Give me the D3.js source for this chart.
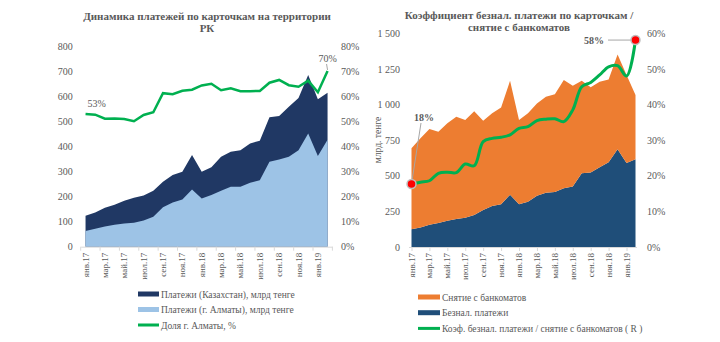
<!DOCTYPE html>
<html>
<head>
<meta charset="utf-8">
<script src="https://cdn.jsdelivr.net/npm/d3@7"></script>
<style>
body { margin: 0; background: #fff; }
svg text { font-family: "Liberation Serif", "Times New Roman", serif; fill: #595959; }
</style>
</head>
<body>
<script>
const months = ["янв.17","фев.17","мар.17","апр.17","май.17","июн.17","июл.17","авг.17","сен.17","окт.17","ноя.17","дек.17",
  "янв.18","фев.18","мар.18","апр.18","май.18","июн.18","июл.18","авг.18","сен.18","окт.18","ноя.18","дек.18","янв.19","фев.19"];
const tickMonths = months.filter((m, i) => i % 2 === 0);

// left chart: payments, bln tenge + Almaty share, %
const kazPayments = [124,137,156,168,184,196,205,224,260,287,300,367,300,318,360,380,386,413,424,518,523,560,595,687,590,616];
const almatyPayments = [63,72,81,88,93,96,105,120,158,177,189,229,193,207,224,240,240,256,266,340,349,360,386,453,363,428];
const almatyShare = [53.1,52.8,51.2,51.3,51.1,50.2,52.7,53.8,61.4,61.0,62.4,62.8,64.5,65.2,62.6,63.4,62.2,62.2,62.3,65.6,66.7,64.6,64.0,66.4,61.8,70.3];
const leftTicks = [0,100,200,300,400,500,600,700,800];
const leftPctTicks = [0,10,20,30,40,50,60,70,80];

// right chart: cashless payments, ATM withdrawals, ratio %
const cashless = kazPayments;
const atmWithdrawal = [569,626,672,641,684,719,686,728,626,651,680,800,591,621,648,675,687,759,708,649,598,600,581,665,617,451];
const ratio = [17.7,18.2,18.6,20.7,21.0,20.9,23.3,22.8,29.6,30.5,30.8,31.5,33.3,33.8,35.5,35.9,36.0,35.2,38.5,45.0,46.2,48.3,50.6,50.9,48.0,58.1];
const rightTicks = [0,250,500,750,1000,1250,1500];
const rightPctTicks = [0,10,20,30,40,50,60];

const svg = d3.select("body").append("svg").attr("width", 720).attr("height", 342);

const ru = d3.formatLocale({decimal: ",", thousands: "\u00a0", grouping: [3], currency: ["", ""]});
const fmtNum = ru.format(",");

// ---------- left chart ----------
const xL = d3.scaleBand().domain(months).range([80.7, 332.4]);
const cx = m => xL(m) + xL.bandwidth() / 2;
const yL = d3.scaleLinear().domain([0, 800]).range([246.7, 46.7]);
const yLp = d3.scaleLinear().domain([0, 80]).range([246.7, 46.7]);

const gL = svg.append("g");
gL.append("path").datum(months)
  .attr("d", d3.area().x(cx).y0(yL(0)).y1((d, i) => yL(kazPayments[i])))
  .attr("fill", "#203864");
gL.append("path").datum(months)
  .attr("d", d3.area().x(cx).y0(yL(0)).y1((d, i) => yL(almatyPayments[i])))
  .attr("fill", "#9dc3e6");
gL.append("path").datum(months)
  .attr("d", d3.line().x(cx).y((d, i) => yLp(almatyShare[i])))
  .attr("fill", "none").attr("stroke", "#00b050").attr("stroke-width", 2.5);

// x axis
const axL = gL.append("g").attr("transform", `translate(0,${yL(0)})`)
  .call(d3.axisBottom(xL).tickValues(tickMonths).tickSize(0).tickFormat(""));
axL.select(".domain").attr("stroke", "#d9d9d9");
gL.selectAll("line.tk").data(d3.range(0, 27, 2)).join("line").attr("class", "tk")
  .attr("x1", i => xL.range()[0] + i * xL.step()).attr("x2", i => xL.range()[0] + i * xL.step())
  .attr("y1", yL(0)).attr("y2", yL(0) + 4).attr("stroke", "#d9d9d9");
gL.selectAll("text.xl").data(tickMonths).join("text").attr("class", "xl")
  .attr("transform", d => `translate(${cx(d) + 3},${yL(0) + 6}) rotate(-90)`)
  .attr("text-anchor", "end").attr("font-size", 9).text(d => d);

// y axes
const yAxL = gL.append("g").attr("transform", "translate(80.7,0)")
  .call(d3.axisLeft(yL).tickValues(leftTicks).tickSize(0).tickPadding(8));
yAxL.select(".domain").remove();
yAxL.selectAll("text").attr("font-size", 10).attr("font-family", "Liberation Serif").attr("fill", "#595959");
const yAxLp = gL.append("g").attr("transform", "translate(333,0)")
  .call(d3.axisRight(yLp).tickValues(leftPctTicks).tickSize(0).tickPadding(8).tickFormat(d => d + "%"));
yAxLp.select(".domain").remove();
yAxLp.selectAll("text").attr("font-size", 10).attr("font-family", "Liberation Serif").attr("fill", "#595959");

// title + labels
gL.append("text").attr("x", 207).attr("y", 20).attr("text-anchor", "middle")
  .attr("font-size", 11).attr("font-weight", "bold").text("Динамика платежей по карточкам  на территории");
gL.append("text").attr("x", 207).attr("y", 32).attr("text-anchor", "middle")
  .attr("font-size", 11).attr("font-weight", "bold").text("РК");
gL.append("text").attr("x", cx(months[0]) + 2).attr("y", 107).attr("font-size", 10).attr("fill", "#404040")
  .text(Math.round(almatyShare[0]) + "%");
gL.append("text").attr("x", cx(months[25])).attr("y", 62).attr("text-anchor", "middle")
  .attr("font-size", 10).attr("fill", "#404040").text(Math.round(almatyShare[25]) + "%");
gL.append("line").attr("x1", cx(months[25]) - 1).attr("y1", 64).attr("x2", cx(months[25])).attr("y2", yLp(almatyShare[25]) - 1)
  .attr("stroke", "#a6a6a6");

// legend
const legL = [
  {name: "Платежи (Казахстан), млрд тенге", color: "#203864", h: 5},
  {name: "Платежи (г. Алматы), млрд тенге", color: "#9dc3e6", h: 5},
  {name: "Доля г. Алматы, %", color: "#00b050", h: 3}
];
legL.forEach((d, i) => {
  const y = 294 + i * 15.5;
  svg.append("rect").attr("x", 138).attr("y", y - d.h / 2).attr("width", 21).attr("height", d.h).attr("fill", d.color);
  svg.append("text").attr("x", 161).attr("y", y + 3.5).attr("font-size", 9.5).text(d.name);
});

// ---------- right chart ----------
const xR = d3.scalePoint().domain(months).range([411.5, 635.5]);
const yR = d3.scaleLinear().domain([0, 1500]).range([247, 33.3]);
const yRp = d3.scaleLinear().domain([0, 60]).range([247, 33.3]);

const stackData = months.map((m, i) => ({month: m, cashless: cashless[i], atm: atmWithdrawal[i]}));
const series = d3.stack().keys(["cashless", "atm"])(stackData);
const colorsR = {cashless: "#1f4e79", atm: "#ed7d31"};

const gR = svg.append("g");
gR.selectAll("path.layer").data(series).join("path").attr("class", "layer")
  .attr("fill", d => colorsR[d.key])
  .attr("d", d3.area().x(d => xR(d.data.month)).y0(d => yR(d[0])).y1(d => yR(d[1])));

const axR = gR.append("g").attr("transform", `translate(0,${yR(0)})`)
  .call(d3.axisBottom(xR).tickValues(tickMonths).tickSize(4).tickFormat(""));
axR.select(".domain").attr("stroke", "#d9d9d9").attr("d", "M409,0.5H637");
axR.selectAll(".tick line").attr("stroke", "#d9d9d9");
gR.selectAll("text.xl").data(tickMonths).join("text").attr("class", "xl")
  .attr("transform", d => `translate(${xR(d) + 3},${yR(0) + 6}) rotate(-90)`)
  .attr("text-anchor", "end").attr("font-size", 9).text(d => d);

const yAxR = gR.append("g").attr("transform", "translate(409,0)")
  .call(d3.axisLeft(yR).tickValues(rightTicks).tickSize(0).tickPadding(9).tickFormat(fmtNum));
yAxR.select(".domain").remove();
yAxR.selectAll("text").attr("font-size", 10).attr("font-family", "Liberation Serif").attr("fill", "#595959");
const yAxRp = gR.append("g").attr("transform", "translate(637,0)")
  .call(d3.axisRight(yRp).tickValues(rightPctTicks).tickSize(0).tickPadding(10).tickFormat(d => d + "%"));
yAxRp.select(".domain").remove();
yAxRp.selectAll("text").attr("font-size", 10).attr("font-family", "Liberation Serif").attr("fill", "#595959");

gR.append("text").attr("transform", "translate(381,140) rotate(-90)").attr("text-anchor", "middle")
  .attr("font-size", 9.5).text("млрд. тенге");

// ratio line
gR.append("path").datum(months)
  .attr("d", d3.line().curve(d3.curveCatmullRom).x(d => xR(d)).y((d, i) => yRp(ratio[i])))
  .attr("fill", "none").attr("stroke", "#00b050").attr("stroke-width", 3);

// callouts
gR.append("line").attr("x1", 421).attr("y1", 123).attr("x2", xR(months[0])).attr("y2", yRp(ratio[0]))
  .attr("stroke", "#a6a6a6");
gR.append("text").attr("x", 424).attr("y", 121).attr("text-anchor", "middle").attr("font-size", 10)
  .attr("font-weight", "bold").attr("fill", "#404040").text(Math.round(ratio[0]) + "%");
gR.append("line").attr("x1", 608).attr("y1", yRp(ratio[25])).attr("x2", xR(months[25])).attr("y2", yRp(ratio[25]))
  .attr("stroke", "#a6a6a6");
gR.append("text").attr("x", 604).attr("y", yRp(ratio[25]) + 3.5).attr("text-anchor", "end").attr("font-size", 10)
  .attr("font-weight", "bold").attr("fill", "#404040").text(Math.round(ratio[25]) + "%");
gR.selectAll("circle.mk").data([0, 25]).join("circle").attr("class", "mk")
  .attr("cx", i => xR(months[i])).attr("cy", i => yRp(ratio[i])).attr("r", 4.5)
  .attr("fill", "#ff0000").attr("stroke", "#bfbfbf").attr("stroke-width", 1.5);

gR.append("text").attr("x", 519).attr("y", 19).attr("text-anchor", "middle")
  .attr("font-size", 11).attr("font-weight", "bold").text("Коэффициент безнал. платежи по карточкам /");
gR.append("text").attr("x", 519).attr("y", 31).attr("text-anchor", "middle")
  .attr("font-size", 11).attr("font-weight", "bold").text("снятие с банкоматов");

const legR = [
  {name: "Снятие с банкоматов", color: "#ed7d31", h: 5},
  {name: "Безнал. платежи", color: "#1f4e79", h: 5},
  {name: "Коэф. безнал. платежи  / снятие с банкоматов ( R )", color: "#00b050", h: 3}
];
legR.forEach((d, i) => {
  const y = 297 + i * 15.7;
  svg.append("rect").attr("x", 418).attr("y", y - d.h / 2).attr("width", 22).attr("height", d.h).attr("fill", d.color);
  svg.append("text").attr("x", 442).attr("y", y + 3.5).attr("font-size", 9.5).text(d.name);
});
</script>
</body>
</html>
